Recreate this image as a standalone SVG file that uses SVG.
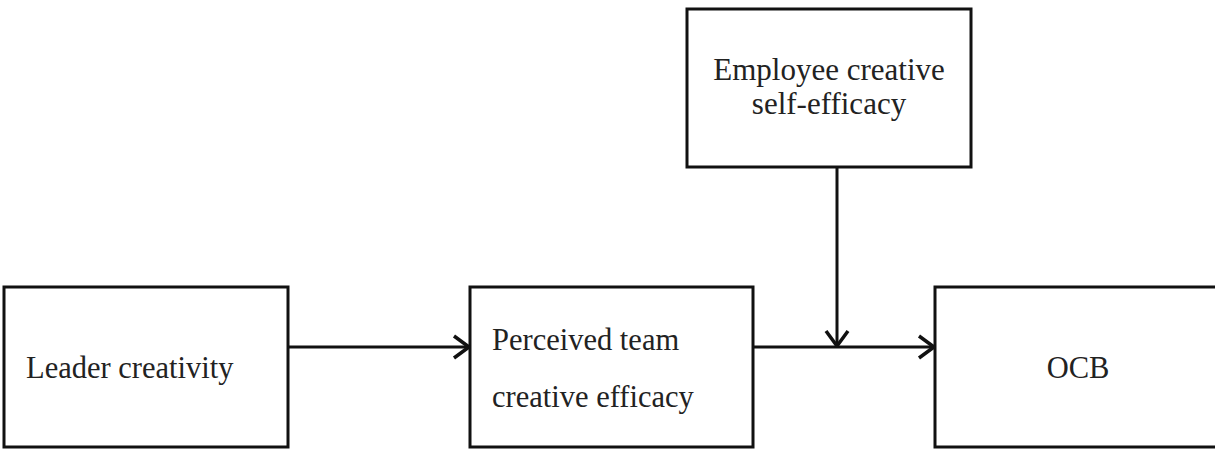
<svg xmlns="http://www.w3.org/2000/svg" width="1215" height="449" viewBox="0 0 1215 449">
<style>
.box{fill:#fff;stroke:#111;stroke-width:3}
.t{font-family:"Liberation Serif","Times New Roman",serif;font-size:30.5px;fill:#222}
.tt{font-size:31px}
.c{stroke:#111;stroke-width:3;fill:none}
</style>
<defs>
<marker id="ah" viewBox="0 0 20 26" refX="18" refY="13" markerWidth="20" markerHeight="26" markerUnits="userSpaceOnUse" orient="auto">
<path d="M3,2 L18,13 L3,24" fill="none" stroke="#111" stroke-width="3.5" stroke-linejoin="miter"/>
</marker>
</defs>
<rect width="1215" height="449" fill="#fff"/>
<g id="leader">
<rect class="box" x="4" y="287" width="284" height="160"/>
<text class="t" x="26" y="378">Leader creativity</text>
</g>
<g id="perceived">
<rect class="box" x="470" y="287" width="283" height="160"/>
<text class="t" x="492" y="350">Perceived team</text>
<text class="t" x="492" y="407">creative efficacy</text>
</g>
<g id="employee">
<rect class="box" x="687" y="9" width="284" height="158"/>
<text class="t tt" x="829" y="80" text-anchor="middle">Employee creative</text>
<text class="t tt" x="829" y="114" text-anchor="middle">self-efficacy</text>
</g>
<g id="ocb">
<rect class="box" x="935" y="287" width="290" height="160"/>
<text class="t" x="1078" y="378" text-anchor="middle">OCB</text>
</g>
<g id="connectors">
<line class="c" x1="288" y1="347" x2="469" y2="347" marker-end="url(#ah)"/>
<line class="c" x1="753" y1="347" x2="934" y2="347" marker-end="url(#ah)"/>
<line class="c" x1="837" y1="167" x2="837" y2="346" marker-end="url(#ah)"/>
</g>
</svg>
